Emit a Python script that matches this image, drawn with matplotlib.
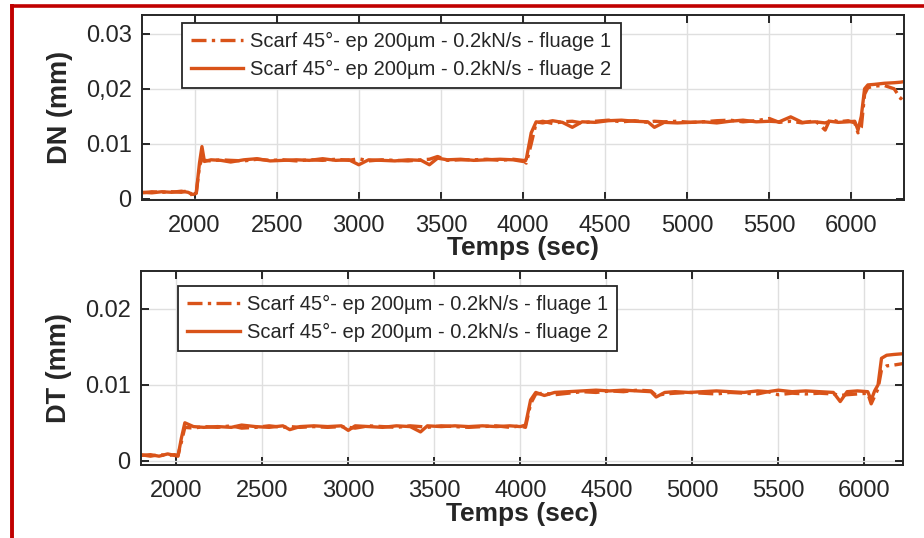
import matplotlib
matplotlib.use("Agg")
import matplotlib.pyplot as plt
from matplotlib.lines import Line2D

plt.rcParams['font.family'] = ['Liberation Sans', 'DejaVu Sans']

# ---------------- data ----------------
t_top = [1680, 1740, 1800, 1860, 1920, 1960, 1990, 2010, 2030, 2045,
         2060, 2100, 2160, 2220, 2300, 2380, 2460, 2540, 2620, 2700,
         2780, 2860, 2940, 3000, 3060, 3140, 3220, 3300, 3380, 3430,
         3480, 3540, 3620, 3700, 3780, 3860, 3940, 4000, 4020, 4050,
         4080, 4120, 4180, 4240, 4300, 4360, 4440, 4520, 4600, 4680,
         4760, 4800, 4860, 4940, 5020, 5100, 5180, 5260, 5340, 5420,
         5500, 5560, 5630, 5700, 5780, 5840, 5870, 5920, 5980, 6020,
         6040, 6060, 6080, 6100, 6140, 6200, 6260, 6300, 6320]
dn_fluage1 = [0.0011, 0.0013, 0.0012, 0.0013, 0.0012, 0.0015, 0.0005, 0.0009, 0.0060, 0.0072,
              0.0070, 0.0069, 0.0071, 0.0070, 0.0069, 0.0072, 0.0070, 0.0071, 0.0069, 0.0071,
              0.0070, 0.0072, 0.0070, 0.0073, 0.0069, 0.0071, 0.0070, 0.0069, 0.0071, 0.0072,
              0.0077, 0.0070, 0.0071, 0.0071, 0.0072, 0.0070, 0.0072, 0.0070, 0.0065, 0.0100,
              0.0138, 0.0141, 0.0137, 0.0140, 0.0141, 0.0138, 0.0141, 0.0143, 0.0140, 0.0142,
              0.0139, 0.0141, 0.0140, 0.0141, 0.0139, 0.0140, 0.0142, 0.0143, 0.0140, 0.0142,
              0.0146, 0.0139, 0.0141, 0.0138, 0.0142, 0.0125, 0.0145, 0.0140, 0.0142, 0.0138,
              0.0120, 0.0130, 0.0190, 0.0202, 0.0205, 0.0206, 0.0200, 0.0182, 0.0190]
dn_fluage2 = [0.0012, 0.0011, 0.0013, 0.0012, 0.0014, 0.0012, 0.0008, 0.0010, 0.0065, 0.0095,
              0.0068, 0.0071, 0.0070, 0.0067, 0.0071, 0.0073, 0.0069, 0.0070, 0.0071, 0.0070,
              0.0073, 0.0070, 0.0071, 0.0062, 0.0071, 0.0070, 0.0069, 0.0071, 0.0070, 0.0062,
              0.0074, 0.0071, 0.0072, 0.0070, 0.0071, 0.0072, 0.0071, 0.0068, 0.0072, 0.0120,
              0.0140, 0.0138, 0.0142, 0.0139, 0.0130, 0.0140, 0.0139, 0.0142, 0.0143, 0.0141,
              0.0140, 0.0130, 0.0139, 0.0138, 0.0139, 0.0140, 0.0138, 0.0141, 0.0143, 0.0140,
              0.0141, 0.0140, 0.0149, 0.0139, 0.0140, 0.0138, 0.0141, 0.0139, 0.0140, 0.0141,
              0.0125, 0.0150, 0.0200, 0.0207, 0.0208, 0.0210, 0.0211, 0.0212, 0.0213]

t_bot = [1795, 1850, 1900, 1950, 1990, 2010, 2030, 2050, 2100, 2160,
         2240, 2320, 2380, 2460, 2540, 2620, 2660, 2720, 2800, 2880,
         2960, 3000, 3040, 3120, 3200, 3280, 3360, 3420, 3460, 3540,
         3620, 3700, 3780, 3860, 3940, 4000, 4030, 4060, 4090, 4140,
         4200, 4280, 4360, 4440, 4520, 4600, 4680, 4760, 4790, 4840,
         4900, 4980, 5060, 5140, 5220, 5300, 5380, 5440, 5500, 5580,
         5660, 5740, 5820, 5860, 5900, 5960, 6020, 6040, 6060, 6080,
         6100, 6130, 6170, 6225]
dt_fluage1 = [0.0008, 0.0006, 0.0008, 0.0007, 0.0008, 0.0007, 0.0025, 0.0044, 0.0043, 0.0045,
              0.0044, 0.0046, 0.0043, 0.0044, 0.0046, 0.0044, 0.0045, 0.0044, 0.0045, 0.0044,
              0.0045, 0.0044, 0.0043, 0.0046, 0.0045, 0.0044, 0.0046, 0.0045, 0.0044, 0.0046,
              0.0045, 0.0044, 0.0045, 0.0046, 0.0044, 0.0046, 0.0044, 0.0075, 0.0088, 0.0089,
              0.0087, 0.0089, 0.0091, 0.0090, 0.0092, 0.0091, 0.0093, 0.0092, 0.0086, 0.0088,
              0.0089, 0.0090, 0.0089, 0.0088, 0.0090, 0.0089, 0.0088, 0.0091, 0.0087, 0.0089,
              0.0088, 0.0089, 0.0088, 0.0086, 0.0087, 0.0088, 0.0089, 0.0075, 0.0085, 0.0095,
              0.0120, 0.0125, 0.0126, 0.0128]
dt_fluage2 = [0.0007, 0.0008, 0.0006, 0.0009, 0.0007, 0.0006, 0.0030, 0.0050, 0.0045, 0.0044,
              0.0045, 0.0044, 0.0047, 0.0045, 0.0044, 0.0046, 0.0041, 0.0045, 0.0046, 0.0045,
              0.0046, 0.0040, 0.0046, 0.0045, 0.0044, 0.0046, 0.0045, 0.0038, 0.0046, 0.0045,
              0.0046, 0.0045, 0.0046, 0.0045, 0.0046, 0.0045, 0.0047, 0.0080, 0.0090, 0.0086,
              0.0090, 0.0091, 0.0092, 0.0093, 0.0092, 0.0093, 0.0092, 0.0091, 0.0084, 0.0090,
              0.0091, 0.0090, 0.0091, 0.0092, 0.0091, 0.0090, 0.0092, 0.0091, 0.0093, 0.0091,
              0.0092, 0.0091, 0.0090, 0.0078, 0.0091, 0.0092, 0.0091, 0.0080, 0.0092, 0.0100,
              0.0135, 0.0139, 0.0140, 0.0141]

legend_labels = ["Scarf 45°- ep 200µm - 0.2kN/s - fluage 1",
                 "Scarf 45°- ep 200µm - 0.2kN/s - fluage 2"]
x_ticks = [2000, 2500, 3000, 3500, 4000, 4500, 5000, 5500, 6000]
top_yticks = [0, 0.01, 0.02, 0.03]
top_yticklabels = ["0", "0.01", "0,02", "0.03"]
bot_yticks = [0, 0.01, 0.02]
bot_yticklabels = ["0", "0.01", "0.02"]

# ---------------- styling ----------------
ORANGE = "#D95319"
AXCOL = "#262626"
W, H = 924, 538
fig = plt.figure(figsize=(W / 100, H / 100), dpi=100)
fig.patch.set_facecolor("white")

def px_axes(left, top, right, bottom):
    return fig.add_axes([left / W, 1 - bottom / H, (right - left) / W, (bottom - top) / H])

ax1 = px_axes(142, 15, 904, 200)
ax2 = px_axes(141, 271, 903, 465.3)

dashdot = (0, (4.5, 1.6, 1.0, 1.6))

def style(ax, xlim, ylim, yticks, yticklabels, ylabel, legend_anchor):
    ax.set_xlim(*xlim)
    ax.set_ylim(*ylim)
    ax.set_xticks(x_ticks)
    ax.set_yticks(yticks)
    ax.set_yticklabels(yticklabels)
    ax.grid(True, color="#DFDFDF", linewidth=1.0)
    ax.set_axisbelow(True)
    for s in ax.spines.values():
        s.set_color(AXCOL)
        s.set_linewidth(1.4)
    ax.tick_params(direction="in", length=6, width=1.4, color=AXCOL,
                   top=True, right=True, labelsize=17.0, labelcolor=AXCOL)
    ax.tick_params(axis="x", pad=10.5)
    ax.tick_params(axis="y", pad=7.5)
    ax.set_xlabel("Temps (sec)", fontsize=19, fontweight="bold", color=AXCOL)
    ax.set_ylabel(ylabel, fontsize=19.5, fontweight="bold", color=AXCOL)
    ax.yaxis.set_label_coords(-0.1076, 0.5)
    ax.yaxis.label.set_va("center")
    leg = ax.legend(legend_labels, loc="upper left", bbox_to_anchor=legend_anchor,
                    borderaxespad=0, fontsize=14.5, fancybox=False, framealpha=1,
                    edgecolor=AXCOL, handlelength=2.6, handletextpad=0.35,
                    labelspacing=0.45, borderpad=0.45)
    leg.get_frame().set_linewidth(1.3)
    for txt in leg.get_texts():
        txt.set_color(AXCOL)

ax1.plot(t_top, dn_fluage1, color=ORANGE, lw=2.4, linestyle=dashdot)
ax1.plot(t_top, dn_fluage2, color=ORANGE, lw=2.4, linestyle="-")
style(ax1, (1680, 6320), (-0.0002, 0.0334), top_yticks, top_yticklabels, "DN (mm)",
      (0.0525, 0.957))
ax1.xaxis.set_label_coords(0.5, -0.295)
ax1.xaxis.label.set_va("baseline")

ax2.plot(t_bot, dt_fluage1, color=ORANGE, lw=2.4, linestyle=dashdot)
ax2.plot(t_bot, dt_fluage2, color=ORANGE, lw=2.4, linestyle="-")
style(ax2, (1795, 6225), (-0.0006, 0.025), bot_yticks, bot_yticklabels, "DT (mm)",
      (0.049, 0.923))
ax2.xaxis.set_label_coords(0.5, -0.289)
ax2.xaxis.label.set_va("baseline")

# red frame around the figure (left and top edges visible)
RED = "#C00000"
fig.add_artist(Line2D([11.5 / W, 11.5 / W], [0, 1 - 5.5 / H], color=RED, lw=2.8,
                      transform=fig.transFigure, solid_capstyle="projecting"))
fig.add_artist(Line2D([11.5 / W, 1.0], [1 - 5.5 / H, 1 - 5.5 / H], color=RED, lw=2.6,
                      transform=fig.transFigure, solid_capstyle="projecting"))

fig.savefig("out.png", dpi=100)
